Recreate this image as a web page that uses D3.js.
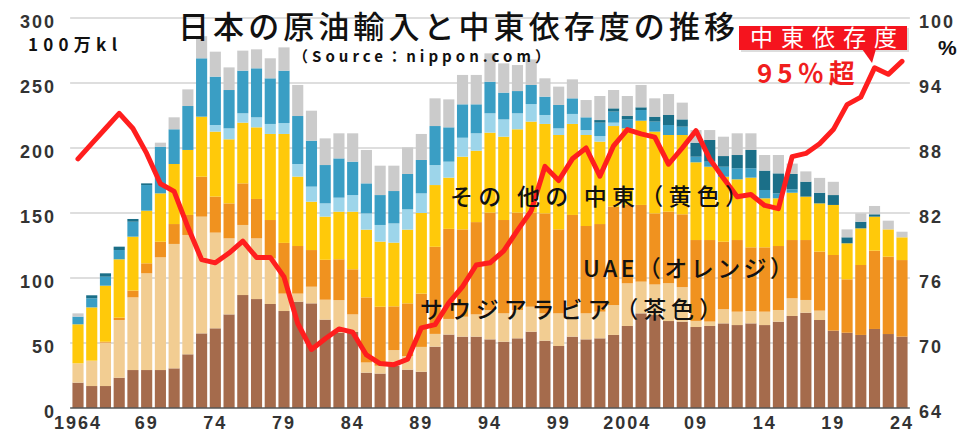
<!DOCTYPE html>
<html>
<head>
<meta charset="utf-8">
<script src="https://cdn.jsdelivr.net/npm/d3@7/dist/d3.min.js"></script>
<style>
  body { margin: 0; background: #fff; }
  svg { display: block; }
</style>
</head>
<body>
<svg id="chart" width="980" height="432"></svg>
<script>
// 日本の原油輸入 (100万kl) by source, stacked bottom to top
const years = d3.range(1964, 2025);
const saudi = [19.5, 16.9, 16.9, 23.3, 29.2, 29.2, 29.2, 30.5, 41.3, 57.4, 61.3, 72.0, 86.9, 83.8, 80.0, 74.6, 81.8, 80.5, 68.0, 58.0, 58.5, 27.2, 26.5, 32.5, 29.5, 27.9, 47.2, 56.5, 54.9, 54.9, 52.8, 51.0, 53.6, 58.7, 51.8, 47.7, 54.9, 52.8, 53.6, 56.2, 63.1, 72.8, 71.5, 66.9, 66.4, 62.3, 63.1, 65.1, 63.8, 65.1, 63.8, 66.4, 70.8, 73.3, 67.7, 59.5, 57.9, 56.2, 60.8, 56.9, 54.9];
const tan = [14.9, 19.5, 33.4, 44.4, 55.9, 74.4, 86.7, 95.7, 91.8, 89.8, 73.6, 58.5, 53.9, 46.7, 35.0, 13.4, 6.2, 12.8, 15.3, 25.0, 13.5, 7.8, 6.0, 12.1, 10.5, 19.1, 9.8, 12.0, 15.3, 17.1, 22.6, 21.8, 21.8, 19.2, 21.0, 25.1, 23.0, 20.0, 20.5, 23.0, 32.8, 24.4, 23.5, 29.1, 26.6, 4.7, 3.4, 10.9, 10.3, 9.5, 10.3, 9.0, 13.6, 9.8, 7.2, 0, 0, 0, 0, 0, 0];
const uae = [0, 0, 0.7, 1.8, 5.2, 7.7, 12.0, 15.3, 15.4, 30.7, 27.7, 26.9, 32.0, 30.3, 29.6, 39.0, 36.6, 28.2, 30.7, 31.4, 34.7, 50.1, 45.4, 33.6, 40.5, 41.0, 67.0, 69.3, 67.2, 71.0, 74.9, 71.8, 74.9, 72.4, 76.9, 64.6, 70.6, 67.2, 67.4, 75.7, 60.3, 59.0, 54.7, 55.0, 56.0, 62.2, 62.7, 51.9, 55.1, 49.0, 49.5, 49.2, 44.8, 46.1, 45.4, 58.2, 41.1, 53.8, 60.2, 59.5, 58.9];
const otherMideast = [30.0, 41.0, 43.1, 44.9, 41.5, 40.5, 37.2, 46.2, 50.0, 46.2, 50.0, 49.3, 46.7, 55.1, 66.2, 83.8, 53.4, 37.2, 33.2, 36.6, 44.3, 52.1, 50.1, 49.0, 56.7, 62.0, 47.5, 39.4, 55.9, 54.9, 61.5, 64.1, 64.1, 70.0, 68.8, 72.6, 70.0, 70.0, 63.4, 62.0, 58.9, 64.8, 62.9, 59.0, 61.0, 59.8, 56.4, 50.0, 46.7, 53.6, 37.7, 36.7, 36.4, 33.4, 37.1, 38.5, 27.7, 28.2, 26.2, 21.0, 17.5];
const lightBlue = [0, 0, 0, 0, 0, 0, 0, 0, 0, 0, 5.1, 8.4, 7.2, 7.7, 7.7, 8.4, 9.7, 11.6, 10.2, 10.8, 12.8, 12.5, 12.8, 14.8, 15.6, 15.1, 15.4, 12.3, 14.6, 13.4, 14.9, 13.3, 12.3, 13.5, 6.9, 5.1, 7.7, 3.8, 4.3, 2.6, 0, 0, 0, 0, 0, 0, 0, 0, 0, 0, 0, 0, 0, 0, 0, 0, 0, 0, 0, 0, 0];
const blue = [5.9, 7.0, 6.9, 7.1, 11.5, 19.7, 35.9, 26.7, 33.8, 44.9, 37.2, 29.5, 32.8, 37.7, 35.1, 40.3, 36.9, 35.3, 29.5, 30.2, 25.7, 23.1, 23.0, 24.9, 27.2, 25.7, 30.0, 26.4, 25.7, 22.3, 24.3, 20.6, 17.1, 14.7, 14.1, 18.0, 12.0, 9.8, 10.3, 8.5, 6.9, 8.2, 7.7, 7.7, 6.4, 4.3, 3.9, 7.7, 8.5, 7.2, 6.4, 3.8, 2.6, 0, 0, 0, 0, 0, 0, 0, 0];
const teal = [0, 2.3, 2.6, 2.6, 2.1, 1.3, 0, 0, 0, 0, 0, 0, 0, 0, 0, 0, 0, 0, 0, 0, 0, 0, 0, 0, 0, 0, 0, 0, 0, 0, 0, 0, 0, 0, 0, 0, 0, 0, 2.0, 2.5, 2.6, 2.1, 3.8, 7.7, 5.6, 10.8, 16.7, 8.2, 10.2, 14.1, 14.9, 15.4, 11.8, 11.5, 8.2, 7.6, 4.6, 5.1, 1.8, 0, 0];
const others = [2.5, 0, 0, 0, 0, 0, 3.1, 9.2, 12.8, 17.0, 19.2, 17.4, 15.4, 14.6, 15.4, 17.9, 23.9, 23.1, 20.5, 19.3, 21.8, 25.7, 22.6, 19.5, 20.5, 20.0, 21.3, 21.5, 22.6, 22.6, 21.8, 22.5, 20.0, 19.7, 14.1, 14.1, 14.6, 13.3, 18.5, 14.1, 15.4, 17.2, 14.1, 16.1, 12.9, 9.7, 7.6, 14.9, 16.7, 12.8, 12.0, 14.1, 8.0, 7.9, 11.4, 10.2, 6.1, 6.4, 6.4, 6.7, 4.3];
// 中東依存度 (%)
const mideastShare = [87.0, 88.4, 89.8, 91.2, 89.8, 87.5, 84.7, 84.0, 80.7, 77.7, 77.4, 78.3, 79.4, 77.9, 77.9, 76.1, 71.8, 69.4, 70.4, 71.3, 71.0, 68.9, 68.1, 68.0, 68.5, 71.4, 71.7, 73.7, 75.2, 77.2, 77.4, 78.5, 80.4, 82.2, 86.3, 85.0, 87.0, 88.0, 85.4, 88.2, 89.7, 89.3, 89.0, 86.5, 88.0, 89.6, 87.0, 85.2, 83.5, 83.7, 82.7, 82.4, 87.2, 87.5, 88.4, 89.7, 92.0, 92.7, 95.4, 94.8, 96.0];

const leftTicks = [0, 50, 100, 150, 200, 250, 300];
const rightTicks = [64, 70, 76, 82, 88, 94, 100];
const xTickYears = [1964, 1969, 1974, 1979, 1984, 1989, 1994, 1999, 2004, 2009, 2014, 2019, 2024];
const xTickLabels = ['1964', '69', '74', '79', '84', '89', '94', '99', '2004', '09', '14', '19', '24'];

const keys = ['saudi', 'tan', 'uae', 'otherMideast', 'lightBlue', 'blue', 'teal', 'others'];
const colors = {
    saudi: '#a56b4c',
    tan: '#f2cd92',
    uae: '#f0921f',
    otherMideast: '#ffc90a',
    lightBlue: '#9dd5ea',
    blue: '#3a9ec4',
    teal: '#1b6f88',
    others: '#cbcbcb',
};
const seriesArrays = { saudi, tan, uae, otherMideast, lightBlue, blue, teal, others };
const table = years.map((year, i) => {
    const row = { year };
    keys.forEach((k) => { row[k] = seriesArrays[k][i]; });
    return row;
});

const svg = d3.select('#chart');
const numFont = '"Liberation Sans", Arial, sans-serif';
const jpFont = '"Noto Sans CJK JP", "Noto Sans", sans-serif';

const step = 13.733;
const x = d3.scaleBand()
    .domain(years)
    .range([78 - step / 2, 902 + step / 2])
    .paddingInner(0.19)
    .paddingOuter(0.095);
const y = d3.scaleLinear().domain([0, 300]).range([408, 18]);
const yRight = d3.scaleLinear().domain([64, 100]).range([408, 18]);
const [x0, x1] = x.range();

// grid lines
svg.append('g')
    .selectAll('line')
    .data(leftTicks.filter((d) => d > 0))
    .join('line')
    .attr('x1', x0 - 1)
    .attr('x2', x1 + 1)
    .attr('y1', (d) => y(d))
    .attr('y2', (d) => y(d))
    .attr('stroke', '#dedede')
    .attr('stroke-width', 2);

// stacked bars
const stacked = d3.stack().keys(keys)(table);
svg.append('g')
    .selectAll('g')
    .data(stacked)
    .join('g')
    .attr('fill', (d) => colors[d.key])
    .selectAll('rect')
    .data((d) => d.filter((p) => p[1] - p[0] > 0))
    .join('rect')
    .attr('x', (d) => x(d.data.year))
    .attr('width', x.bandwidth())
    .attr('y', (d) => y(d[1]))
    .attr('height', (d) => y(d[0]) - y(d[1]));

// base line
svg.append('line')
    .attr('x1', x0 - 1)
    .attr('x2', x1 + 1)
    .attr('y1', y(0))
    .attr('y2', y(0))
    .attr('stroke', '#555')
    .attr('stroke-width', 1.5);

// left axis labels
const leftAxis = svg.append('g')
    .attr('transform', `translate(56,0)`)
    .call(d3.axisLeft(y).tickValues(leftTicks).tickSize(0).tickPadding(0));
leftAxis.select('.domain').remove();
leftAxis.selectAll('text')
    .attr('dy', '0.5em')
    .style('font-family', numFont)
    .style('font-size', '18px')
    .style('font-weight', 'bold')
    .style('letter-spacing', '2px')
    .attr('fill', '#333');

// right axis labels
const rightAxis = svg.append('g')
    .attr('transform', `translate(919,0)`)
    .call(d3.axisRight(yRight).tickValues(rightTicks).tickSize(0).tickPadding(0));
rightAxis.select('.domain').remove();
rightAxis.selectAll('text')
    .attr('dy', '0.5em')
    .style('font-family', numFont)
    .style('font-size', '18px')
    .style('font-weight', 'bold')
    .style('letter-spacing', '2px')
    .attr('fill', '#333');

// x axis labels
svg.append('g')
    .selectAll('text')
    .data(xTickYears)
    .join('text')
    .attr('x', (d) => x(d) + x.bandwidth() / 2)
    .attr('y', 429)
    .attr('text-anchor', 'middle')
    .style('font-family', numFont)
    .style('font-size', '18px')
    .style('font-weight', 'bold')
    .style('letter-spacing', '2px')
    .attr('fill', '#333')
    .text((d, i) => xTickLabels[i]);

// dependency line
const line = d3.line()
    .x((d, i) => x(years[i]) + x.bandwidth() / 2)
    .y((d) => yRight(d))
    .curve(d3.curveLinear);
svg.append('path')
    .datum(mideastShare)
    .attr('d', line)
    .attr('fill', 'none')
    .attr('stroke', '#ff1e1e')
    .attr('stroke-width', 5)
    .attr('stroke-linejoin', 'round')
    .attr('stroke-linecap', 'round');

// titles
svg.append('text')
    .attr('x', 178)
    .attr('y', 38)
    .attr('textLength', 557)
    .attr('lengthAdjust', 'spacing')
    .style('font-family', jpFont)
    .style('font-size', '31px')
    .style('font-weight', 500)
    .attr('fill', '#111')
    .text('日本の原油輸入と中東依存度の推移');

svg.append('text')
    .attr('x', 293)
    .attr('y', 62)
    .attr('textLength', 257)
    .attr('lengthAdjust', 'spacing')
    .style('font-family', jpFont)
    .style('font-size', '15px')
    .style('font-weight', 'bold')
    .attr('fill', '#111')
    .text('（Source：nippon.com）');

svg.append('text')
    .attr('x', 28)
    .attr('y', 51)
    .attr('textLength', 89)
    .attr('lengthAdjust', 'spacing')
    .style('font-family', jpFont)
    .style('font-size', '17px')
    .style('font-weight', 'bold')
    .attr('fill', '#111')
    .text('100万kl');

svg.append('text')
    .attr('x', 938)
    .attr('y', 55)
    .style('font-family', numFont)
    .style('font-size', '21px')
    .style('font-weight', 'bold')
    .attr('fill', '#111')
    .text('%');

// series labels
const seriesLabels = [
    { text: 'その 他の 中東（黄色）', x: 450, y: 205, w: 298 },
    { text: 'UAE（オレンジ）', x: 583, y: 277, w: 210 },
    { text: 'サウジアラビア（茶色）', x: 420, y: 318, w: 302 },
];
svg.append('g')
    .selectAll('text')
    .data(seriesLabels)
    .join('text')
    .attr('x', (d) => d.x)
    .attr('y', (d) => d.y)
    .attr('textLength', (d) => d.w)
    .attr('lengthAdjust', 'spacing')
    .style('font-family', jpFont)
    .style('font-size', '23px')
    .style('font-weight', 500)
    .attr('fill', '#111')
    .text((d) => d.text);

// callout
const callout = svg.append('g');
callout.append('rect')
    .attr('x', 741)
    .attr('y', 28)
    .attr('width', 168)
    .attr('height', 24)
    .attr('fill', '#bbb')
    .attr('opacity', 0.5);
callout.append('rect')
    .attr('x', 739)
    .attr('y', 26)
    .attr('width', 168)
    .attr('height', 24)
    .attr('fill', '#f5141e');
callout.append('path')
    .attr('d', 'M862,49 L876,49 L872,63 Z')
    .attr('fill', '#f5141e');
callout.append('text')
    .attr('x', 750)
    .attr('y', 46)
    .attr('textLength', 147)
    .attr('lengthAdjust', 'spacing')
    .style('font-family', jpFont)
    .style('font-size', '23px')
    .attr('fill', '#fff')
    .text('中東依存度');
callout.append('text')
    .attr('x', 757)
    .attr('y', 83)
    .style('font-family', jpFont)
    .style('font-size', '26px')
    .style('font-weight', 'bold')
    .style('letter-spacing', '5px')
    .attr('fill', '#f01e1e')
    .text('95％超');
</script>
</body>
</html>
